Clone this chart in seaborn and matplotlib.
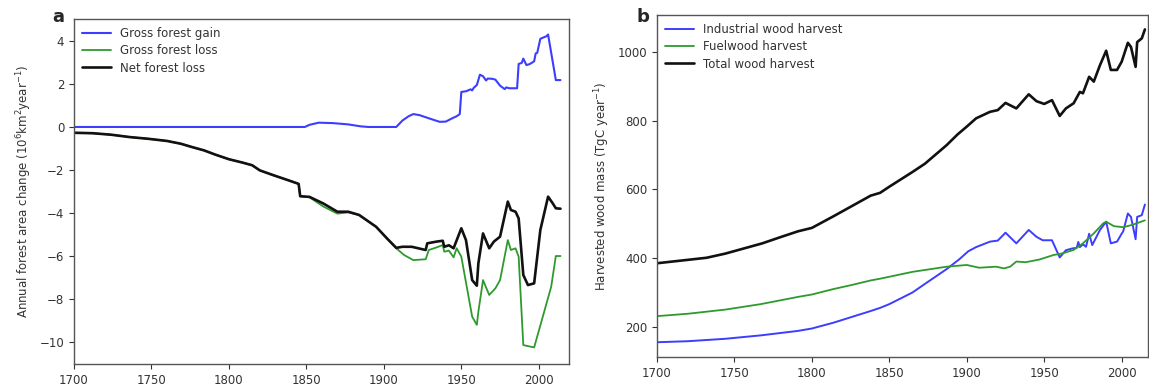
import matplotlib
matplotlib.use("Agg")
import matplotlib.pyplot as plt
import seaborn as sns

sns.set_style("ticks")
plt.rcParams['font.family'] = ['DejaVu Sans']

# ---------------- Panel a data (10^6 km^2 / year) ----------------
gain_years = [1700, 1849, 1852, 1858, 1867, 1877, 1885, 1890, 1908, 1912, 1916, 1919, 1923, 1930,
              1936, 1940, 1944, 1947, 1949, 1950, 1953, 1956, 1957, 1958, 1960, 1962, 1964, 1966,
              1967, 1970, 1972, 1975, 1978, 1979, 1981, 1986, 1987, 1989, 1990, 1992, 1994, 1997,
              1998, 1999, 2001, 2005, 2006, 2011, 2014]
gain_vals = [0.0, 0.0, 0.1, 0.2, 0.18, 0.12, 0.03, 0.0, 0.0, 0.3, 0.5, 0.6, 0.55, 0.38,
             0.24, 0.25, 0.4, 0.5, 0.6, 1.63, 1.66, 1.75, 1.7, 1.82, 1.95, 2.43, 2.36, 2.16,
             2.25, 2.24, 2.2, 1.92, 1.76, 1.84, 1.8, 1.8, 2.93, 2.98, 3.18, 2.88, 2.92, 3.05,
             3.42, 3.45, 4.1, 4.22, 4.3, 2.18, 2.18]

loss_years = [1700, 1712, 1724, 1736, 1748, 1760, 1769, 1776, 1784, 1791, 1800, 1809, 1815, 1820,
              1829, 1838, 1844, 1845, 1846, 1852, 1861, 1870, 1877, 1884, 1895, 1902, 1908, 1913,
              1919, 1927, 1929, 1934, 1938, 1939, 1942, 1945, 1947, 1950, 1957, 1960, 1961, 1964,
              1968, 1972, 1975, 1980, 1982, 1985, 1987, 1990, 1997, 2005, 2008, 2011, 2014]
loss_vals = [-0.27, -0.29, -0.36, -0.47, -0.55, -0.65, -0.78, -0.93, -1.09, -1.28, -1.5, -1.66, -1.78, -2.02,
             -2.25, -2.47, -2.62, -2.65, -3.22, -3.27, -3.7, -4.03, -3.97, -4.09, -4.64, -5.18, -5.64, -5.95,
             -6.19, -6.15, -5.72, -5.6, -5.49, -5.8, -5.75, -6.06, -5.64, -6.03, -8.82, -9.2, -8.59, -7.12,
             -7.81, -7.5, -7.12, -5.26, -5.72, -5.64, -6.03, -10.14, -10.25, -8.2, -7.43, -6.0, -6.0]

net_years = [1700, 1712, 1724, 1736, 1748, 1760, 1769, 1776, 1784, 1791, 1800, 1809, 1815, 1820,
             1829, 1838, 1844, 1845, 1846, 1852, 1861, 1870, 1877, 1884, 1895, 1902, 1908, 1912,
             1918, 1927, 1928, 1934, 1938, 1939, 1942, 1945, 1950, 1953, 1957, 1960, 1961, 1964,
             1968, 1971, 1975, 1980, 1982, 1985, 1987, 1990, 1993, 1997, 2001, 2006, 2009, 2011, 2014]
net_vals = [-0.27, -0.29, -0.36, -0.47, -0.55, -0.65, -0.78, -0.93, -1.09, -1.28, -1.5, -1.66, -1.78, -2.02,
            -2.25, -2.47, -2.62, -2.65, -3.22, -3.25, -3.56, -3.94, -3.94, -4.09, -4.64, -5.18, -5.62, -5.57,
            -5.57, -5.72, -5.41, -5.33, -5.29, -5.57, -5.5, -5.64, -4.71, -5.26, -7.12, -7.38, -6.34, -4.95,
            -5.64, -5.33, -5.1, -3.47, -3.86, -3.94, -4.25, -6.88, -7.35, -7.27, -4.79, -3.24, -3.55, -3.78, -3.8]

# ---------------- Panel b data (TgC / year) ----------------
ind_years = [1700, 1720, 1744, 1767, 1791, 1800, 1814, 1826, 1838, 1844, 1850, 1865, 1873, 1887,
             1895, 1901, 1906, 1915, 1920, 1925, 1932, 1940, 1945, 1949, 1955, 1960, 1964, 1968,
             1971, 1972, 1973, 1975, 1977, 1979, 1981, 1986, 1990, 1993, 1997, 2000, 2001, 2004,
             2006, 2009, 2010, 2013, 2015]
ind_vals = [155, 158, 165, 175, 188, 195, 212, 229, 246, 255, 266, 300, 325, 368,
            396, 420, 432, 448, 451, 474, 443, 482, 462, 452, 452, 402, 423, 428,
            430, 447, 432, 440, 433, 471, 438, 482, 506, 443, 448, 471, 478, 530,
            520, 455, 520, 525, 556]

fuel_years = [1700, 1720, 1744, 1767, 1791, 1800, 1814, 1826, 1838, 1844, 1865, 1887, 1900, 1908,
              1919, 1924, 1928, 1932, 1938, 1947, 1956, 1962, 1969, 1975, 1982, 1988, 1990, 1995,
              2001, 2007, 2015]
fuel_vals = [231, 238, 250, 266, 287, 294, 310, 322, 335, 340, 360, 375, 380, 372,
             375, 370, 375, 390, 388, 396, 409, 414, 424, 443, 472, 501, 506, 493,
             490, 497, 510]

tot_years = [1700, 1720, 1732, 1744, 1756, 1768, 1779, 1791, 1800, 1814, 1826, 1838, 1844, 1850,
             1865, 1873, 1887, 1894, 1900, 1906, 1915, 1920, 1925, 1932, 1940, 1945, 1950, 1955,
             1960, 1964, 1969, 1973, 1975, 1979, 1982, 1986, 1990, 1993, 1997, 2000, 2004, 2006,
             2009, 2010, 2013, 2015]
tot_vals = [385, 395, 401, 413, 428, 443, 460, 478, 488, 522, 552, 582, 590, 608,
            651, 675, 729, 760, 783, 807, 826, 831, 852, 836, 877, 857, 849, 860,
            814, 836, 851, 884, 880, 928, 914, 962, 1004, 948, 948, 972, 1027, 1015,
            957, 1029, 1040, 1066]

labels_a = ["Gross forest gain", "Gross forest loss", "Net forest loss"]
labels_b = ["Industrial wood harvest", "Fuelwood harvest", "Total wood harvest"]
xticks = [1700, 1750, 1800, 1850, 1900, 1950, 2000]

BLUE = "#3d3dff"
GREEN = "#2e9a2e"
BLACK = "#111111"
FS = 8.5

W, H = 1149, 385
fig = plt.figure(figsize=(W / 100, H / 100), dpi=100)
axa = fig.add_axes([74 / W, (H - 364) / H, 495 / W, 345 / H])
axb = fig.add_axes([657 / W, (H - 357) / H, 491 / W, 342 / H])

sns.lineplot(x=gain_years, y=gain_vals, ax=axa, color=BLUE, lw=1.5, label=labels_a[0])
sns.lineplot(x=loss_years, y=loss_vals, ax=axa, color=GREEN, lw=1.3, label=labels_a[1])
sns.lineplot(x=net_years, y=net_vals, ax=axa, color=BLACK, lw=1.9, label=labels_a[2])

sns.lineplot(x=ind_years, y=ind_vals, ax=axb, color=BLUE, lw=1.4, label=labels_b[0])
sns.lineplot(x=fuel_years, y=fuel_vals, ax=axb, color=GREEN, lw=1.3, label=labels_b[1])
sns.lineplot(x=tot_years, y=tot_vals, ax=axb, color=BLACK, lw=1.9, label=labels_b[2])

axa.set_xlim(1700, 2019.5)
axa.set_ylim(-11.02, 5.02)
axa.set_yticks([-10, -8, -6, -4, -2, 0, 2, 4])
axb.set_xlim(1700, 2017)
axb.set_ylim(112, 1108)
axb.set_yticks([200, 400, 600, 800, 1000])

axa.set_ylabel(r"Annual forest area change (10$^6$km$^2$year$^{-1}$)", fontsize=FS, color="#333333")
axb.set_ylabel(r"Harvested wood mass (TgC year$^{-1}$)", fontsize=FS, color="#333333")

for ax in (axa, axb):
    ax.set_xticks(xticks)
    ax.tick_params(labelsize=FS, colors="#333333", length=3.5, width=0.8)
    for s in ax.spines.values():
        s.set_visible(True)
        s.set_color("#555555")
        s.set_linewidth(1.0)
    ax.grid(False)
    leg = ax.legend(loc="upper left", frameon=False, fontsize=FS, handlelength=2.4,
                    labelspacing=0.35, borderaxespad=0.3)
    for t in leg.get_texts():
        t.set_color("#333333")

fig.text(58 / W, 1 - 17 / H, "a", fontsize=13, fontweight="bold", ha="center", va="center")
fig.text(643 / W, 1 - 17 / H, "b", fontsize=13, fontweight="bold", ha="center", va="center")

fig.savefig("out.png", dpi=100)
